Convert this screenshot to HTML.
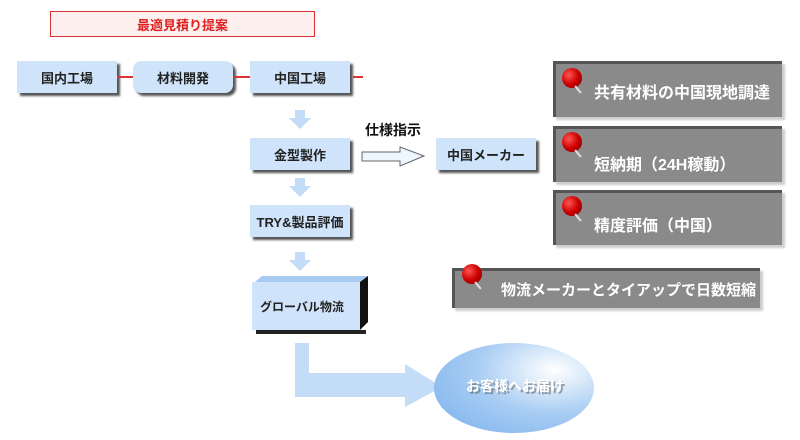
<!DOCTYPE html>
<html><head><meta charset="utf-8"><style>
body{margin:0;width:800px;height:440px;background:#fff;position:relative;overflow:hidden;font-family:"Liberation Sans","Noto Sans CJK JP",sans-serif;font-weight:bold}
.b{position:absolute;background:#cfe4fb;box-shadow:3px 3px 2px #555;display:flex;align-items:center;justify-content:center;font-size:13px;color:#222}
.g{position:absolute;background:#8a8a8a;border-top:3px solid #555;border-left:3px solid #555;box-shadow:3px 3px 2px #ccc;color:#fff;font-size:16px;display:flex;align-items:center;box-sizing:border-box;white-space:nowrap}
.pin{position:absolute;width:20px;height:20px;border-radius:50%;background:radial-gradient(circle at 35% 35%,#f55,#c00 50%,#700)}
.pin:after{content:"";position:absolute;left:15px;top:17px;width:2px;height:9px;background:#ddd;transform:rotate(-40deg)}
.ln{position:absolute;height:2px;background:#d33}
</style></head><body>
<div style="position:absolute;left:50px;top:11px;width:263px;height:24px;border:1.5px solid #d33;background:#fff0f0;color:#d22;font-size:13px;display:flex;align-items:center;justify-content:center">最適見積り提案</div>
<div class="b" style="left:17px;top:61px;width:100px;height:32px">国内工場</div>
<div class="b" style="left:133px;top:61px;width:100px;height:32px;border-radius:8px">材料開発</div>
<div class="b" style="left:250px;top:61px;width:100px;height:32px">中国工場</div>
<div class="ln" style="left:117px;top:76px;width:16px"></div>
<div class="ln" style="left:233px;top:76px;width:17px"></div>
<div class="ln" style="left:353px;top:76px;width:10px"></div>
<div class="b" style="left:250px;top:138px;width:100px;height:32px">金型製作</div>
<div class="b" style="left:436px;top:138px;width:100px;height:32px">中国メーカー</div>
<div class="b" style="left:250px;top:205px;width:100px;height:32px">TRY&amp;製品評価</div>
<div style="position:absolute;left:365px;top:120px;font-size:14px;color:#111">仕様指示</div>
<svg style="position:absolute;left:0;top:0" width="800" height="440">
<defs><radialGradient id="el" cx="0.75" cy="0.3" r="0.8"><stop offset="0" stop-color="#fff"/><stop offset="0.6" stop-color="#a9cdf3"/><stop offset="1" stop-color="#8cbcef"/></radialGradient></defs>
<g fill="#c3dcf7">
<polygon points="295,110 305,110 305,118 311,118 300,129 289,118 295,118"/>
<polygon points="295,178 305,178 305,186 311,186 300,197 289,186 295,186"/>
<polygon points="295,252 305,252 305,260 311,260 300,271 289,260 295,260"/>
<polygon points="295,343 309,343 309,373 405,373 405,364 442,387 405,407 405,397 295,397"/>
</g>
<polygon points="362,152 400,152 400,147 424,156 400,166 400,161 362,161" fill="#eef6ff" stroke="#666" stroke-width="1"/>
<polygon points="255,282 262,276 368,276 360,282" fill="#a7cbf2"/>
<polygon points="360,282 368,276 368,322 360,330" fill="#111"/>
<rect x="252" y="282" width="108" height="48" fill="#cfe4fb"/>
<rect x="256" y="330" width="110" height="4" fill="#222"/>
<text x="302" y="311" font-size="12" text-anchor="middle" fill="#222" font-weight="bold">グローバル物流</text>
<ellipse cx="514" cy="388" rx="80" ry="45" fill="url(#el)"/>
<text x="517" y="393" font-size="14" text-anchor="middle" fill="#555" font-weight="bold" opacity="0.5">お客様へお届け</text>
<text x="515" y="391" font-size="14" text-anchor="middle" fill="#fff" font-weight="bold">お客様へお届け</text>
</svg>
<div class="g" style="left:553px;top:61px;width:229px;height:56px;padding-left:38px">共有材料の中国現地調達</div>
<div class="pin" style="left:562px;top:68px"></div>
<div class="g" style="left:553px;top:126px;width:229px;height:56px;padding-left:38px;padding-top:14px">短納期（24H稼動）</div>
<div class="pin" style="left:562px;top:132px"></div>
<div class="g" style="left:553px;top:190px;width:229px;height:55px;padding-left:38px;padding-top:10px">精度評価（中国）</div>
<div class="pin" style="left:562px;top:196px"></div>
<div class="g" style="left:452px;top:268px;width:308px;height:40px;padding-left:46px;font-size:15px">物流メーカーとタイアップで日数短縮</div>
<div class="pin" style="left:462px;top:264px"></div>
</body></html>
